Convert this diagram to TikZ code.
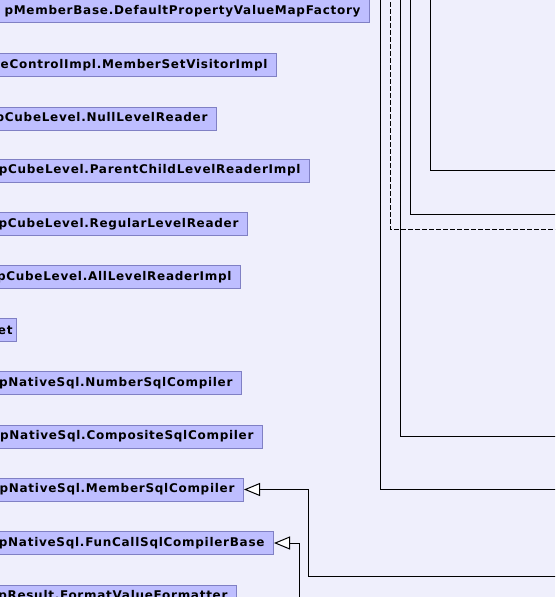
\documentclass[tikz,border=0pt]{standalone}
\usepackage{fontspec}
\setmainfont{DejaVu Sans}
\newfontfamily\clsfont[LetterSpace=6]{DejaVu Sans}
\usetikzlibrary{arrows.meta}
\definecolor{bgc}{RGB}{239,239,252}
\definecolor{boxfill}{RGB}{190,190,255}
\definecolor{boxdraw}{RGB}{128,128,196}
\tikzset{
  cls/.style={draw=boxdraw, fill=boxfill, line width=1pt, anchor=east,
    minimum height=23pt, inner xsep=9pt, inner ysep=0pt, align=right,
    font=\clsfont\fontsize{12}{14}\selectfont\bfseries},
  edge/.style={draw=black, line width=1pt},
  dedge/.style={edge, dash pattern=on 5pt off 2pt},
  inh/.style={edge, -{Triangle[open, length=16pt, width=13pt, fill=white]}}
}
\begin{document}
\begin{tikzpicture}[x=1pt, y=-1pt]
\useasboundingbox[fill=bgc] (0,0) rectangle (555,597);
\clip (0,0) rectangle (555,597);
% class boxes (left parts lie outside the picture)
\node[cls, text width=380pt] (n1) at (370,11) {pMemberBase.DefaultPropertyValueMapFactory};
\node[cls, text width=287pt] (n2) at (277,65) {neControlImpl.MemberSetVisitorImpl};
\node[cls, text width=227pt] (n3) at (217,118.5) {pCubeLevel.NullLevelReader};
\node[cls, text width=320pt] (n4) at (310,170.5) {pCubeLevel.ParentChildLevelReaderImpl};
\node[cls, text width=258pt] (n5) at (248,224) {pCubeLevel.RegularLevelReader};
\node[cls, text width=251pt] (n6) at (241,277) {pCubeLevel.AllLevelReaderImpl};
\node[cls, text width=30pt, inner xsep=4pt] (n7) at (17,330) {et};
\node[cls, text width=252pt] (n8) at (242,383) {pNativeSql.NumberSqlCompiler};
\node[cls, text width=273pt] (n9) at (263,436.5) {pNativeSql.CompositeSqlCompiler};
\node[cls, text width=254pt] (n10) at (244,489.5) {pNativeSql.MemberSqlCompiler};
\node[cls, text width=284pt] (n11) at (274,543) {pNativeSql.FunCallSqlCompilerBase};
\node[cls, text width=247pt] (n12) at (237,596.5) {pResult.FormatValueFormatter};
% free ends of connectors outside the picture
\coordinate (a0) at (380.7,-5);
\coordinate (a1) at (560,489.5);
\coordinate (b0) at (390.7,-5);
\coordinate (b1) at (560,229.3);
\coordinate (c0) at (400.7,-5);
\coordinate (c1) at (560,436);
\coordinate (d0) at (410.7,-5);
\coordinate (d1) at (560,214);
\coordinate (e0) at (430.7,-5);
\coordinate (e1) at (560,170);
\coordinate (f0) at (560,576);
\coordinate (g0) at (299,602);
% connectors
\draw[edge] (a0) |- (a1);
\draw[dedge] (b0) |- (b1);
\draw[edge] (c0) |- (c1);
\draw[edge] (d0) |- (d1);
\draw[edge] (e0) |- (e1);
\draw[inh] (f0) -- (308,576) |- (n10.east);
\draw[inh] (g0) |- (n11.east);
\end{tikzpicture}
\end{document}
